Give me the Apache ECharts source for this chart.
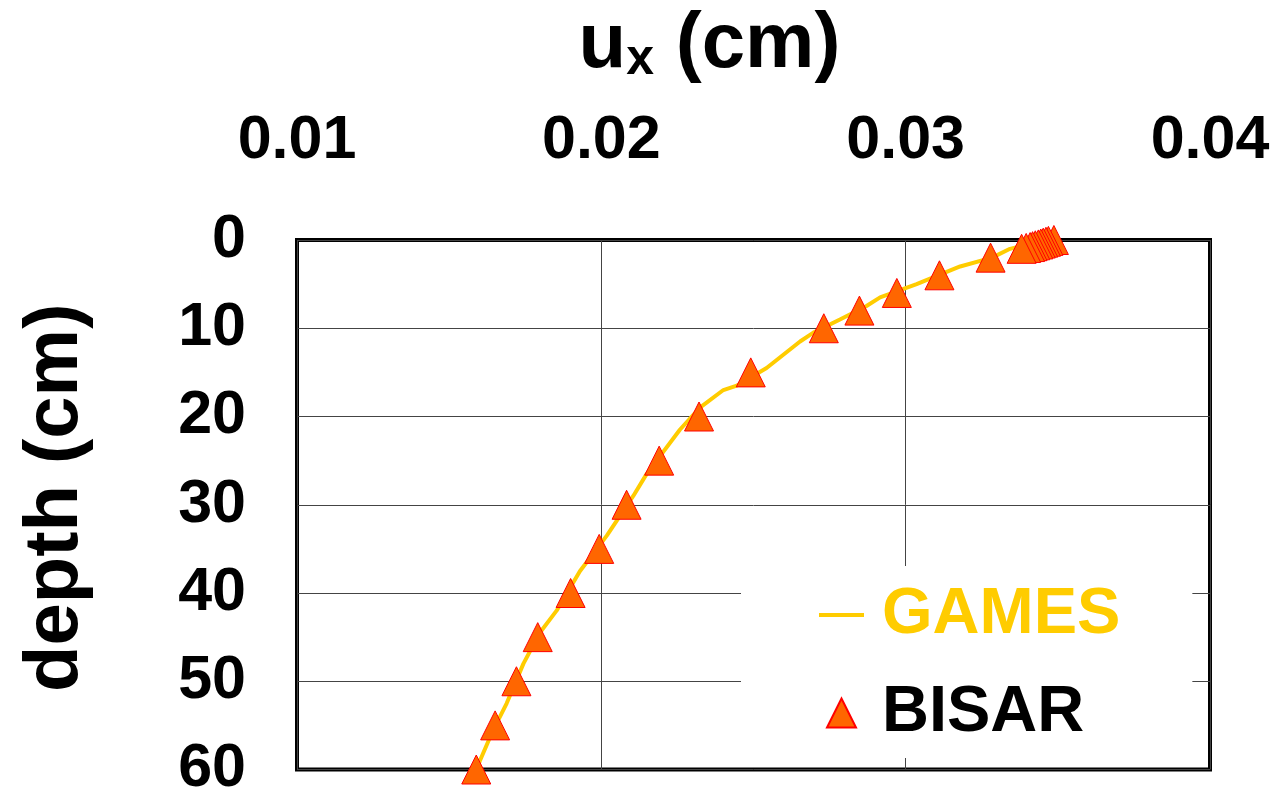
<!DOCTYPE html>
<html>
<head>
<meta charset="utf-8">
<script src="https://cdn.jsdelivr.net/npm/echarts@6/dist/echarts.min.js"></script>
<style>
  html, body { margin: 0; padding: 0; background: #fff; }
  #chart { width: 1281px; height: 800px; }
</style>
</head>
<body>
<div id="chart"></div>
<script>
// Axis ticks
const uxTicks = [0.01, 0.02, 0.03, 0.04];
const depthTicks = [0, 10, 20, 30, 40, 50, 60];

// GAMES: horizontal displacement profile (continuous line)
const gamesDepth = [0, 1, 2, 3, 5, 6.5, 7.5, 9, 10.5, 11.5, 14.5, 16.5, 17, 19, 21.5, 26.5, 29, 33.5, 37.5, 42, 44.5, 48, 52.5, 55.5, 59, 60];
const gamesUx    = [0.03460, 0.03343, 0.03284, 0.03179, 0.03036, 0.02916, 0.02870, 0.02784, 0.02697, 0.02653, 0.02543, 0.02445, 0.02401, 0.02324, 0.02258, 0.02149, 0.02105, 0.02018, 0.01930, 0.01853, 0.01798, 0.01744, 0.01689, 0.01645, 0.01601, 0.01591];

// BISAR: discrete evaluation points
const bisarDepth = [0, 0.1, 0.2, 0.3, 0.4, 0.5, 0.6, 0.7, 0.8, 0.9, 1, 2, 4, 6, 8, 10, 15, 20, 25, 30, 35, 40, 45, 50, 55, 60];
const bisarUx    = [0.03487, 0.03469, 0.03461, 0.03452, 0.03444, 0.03436, 0.03426, 0.03417, 0.03409, 0.03396, 0.03381, 0.03279, 0.03111, 0.02971, 0.02848, 0.02731, 0.02491, 0.02321, 0.02190, 0.02083, 0.01993, 0.01899, 0.01791, 0.01721, 0.01651, 0.01589];

const FONT = "'Liberation Sans', Arial, sans-serif";

// Legend glyphs: a short bar for the line, a triangle for the points
const LINE_ICON = 'path://M0,0L45,0L45,4L0,4Z';
const TRIANGLE_ICON = 'path://M14.5,0L29,29L0,29Z';

const chart = echarts.init(document.getElementById('chart'), null, { renderer: 'canvas' });

chart.setOption({
  backgroundColor: '#fff',
  animation: false,
  grid: {
    left: 297, top: 240, width: 913, height: 533,
    show: true, borderColor: '#000', borderWidth: 4, backgroundColor: 'transparent'
  },
  xAxis: {
    type: 'value',
    position: 'top',
    min: uxTicks[0],
    max: uxTicks[uxTicks.length - 1],
    interval: uxTicks[1] - uxTicks[0],
    name: '{u|u}{s|x}{u| (cm)}',
    nameLocation: 'middle',
    nameGap: 155,
    nameTextStyle: {
      padding: [0, 88, 0, 0],
      rich: {
        u: { fontSize: 78, fontWeight: 'bold', fontFamily: FONT, color: '#000', lineHeight: 80 },
        s: { fontSize: 50, fontWeight: 'bold', fontFamily: FONT, color: '#000', verticalAlign: 'bottom', lineHeight: 34 }
      }
    },
    axisLine: { show: false },
    axisTick: { show: false },
    axisLabel: {
      margin: 68,
      fontSize: 61, fontWeight: 'bold', fontFamily: FONT, color: '#000',
      formatter: v => v.toFixed(2)
    },
    splitLine: { show: true, lineStyle: { color: '#444', width: 1 } }
  },
  yAxis: {
    type: 'value',
    inverse: true,
    min: depthTicks[0],
    max: depthTicks[depthTicks.length - 1],
    interval: depthTicks[1] - depthTicks[0],
    name: 'depth (cm)',
    nameLocation: 'middle',
    nameGap: 203,
    nameTextStyle: { fontSize: 76, fontWeight: 'bold', fontFamily: FONT, color: '#000', padding: [0, 0, 0, 14] },
    axisLine: { show: false },
    axisTick: { show: false },
    axisLabel: {
      margin: 51,
      fontSize: 61, fontWeight: 'bold', fontFamily: FONT, color: '#000'
    },
    splitLine: { show: true, lineStyle: { color: '#444', width: 1 } }
  },
  legend: {
    orient: 'vertical',
    left: 741, top: 566,
    padding: [14, 72, 7, 78],
    backgroundColor: '#fff',
    itemWidth: 45, itemHeight: 29,
    itemGap: 25,
    symbolKeepAspect: true,
    textStyle: { fontSize: 65, fontWeight: 'bold', fontFamily: FONT, lineHeight: 70, padding: [0, 0, 0, 13] },
    data: [
      { name: 'GAMES', icon: LINE_ICON, itemStyle: { color: '#FFCC00', borderWidth: 0 }, textStyle: { color: '#FFCC00' } },
      { name: 'BISAR', icon: TRIANGLE_ICON, textStyle: { color: '#000', padding: [6, 0, 0, 13] } }
    ]
  },
  series: [
    {
      name: 'GAMES',
      type: 'line',
      data: gamesDepth.map((d, i) => [gamesUx[i], d]),
      symbol: 'none',
      lineStyle: { color: '#FFCC00', width: 4 },
      itemStyle: { color: '#FFCC00' },
      z: 2
    },
    {
      name: 'BISAR',
      type: 'scatter',
      data: bisarDepth.map((d, i) => [bisarUx[i], d]),
      symbol: 'triangle',
      symbolSize: 29,
      clip: false,
      itemStyle: { color: '#FF6600', borderColor: '#FF0000', borderWidth: 1, opacity: 1 },
      z: 3
    }
  ]
});
</script>
</body>
</html>
